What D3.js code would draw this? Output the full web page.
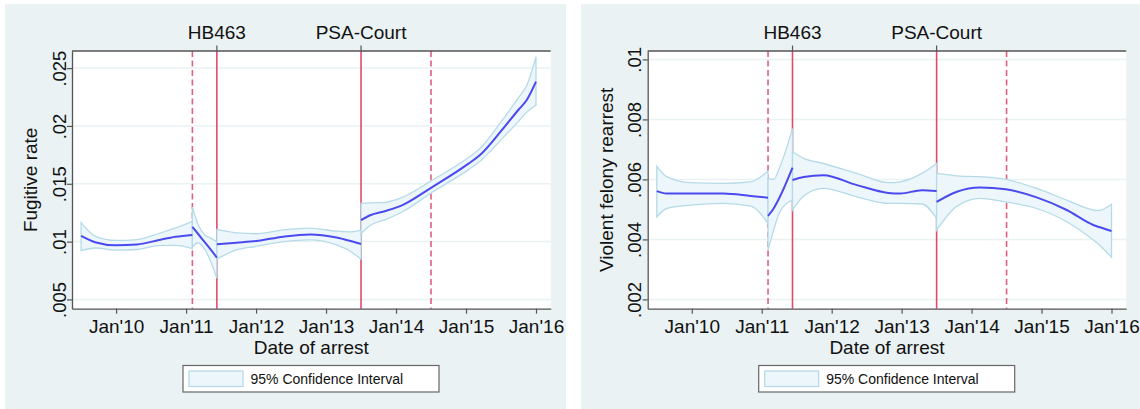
<!DOCTYPE html>
<html>
<head>
<meta charset="utf-8">
<script src="https://cdn.jsdelivr.net/npm/d3@7"></script>
<style>
  body { margin: 0; background: #fff; }
  svg { display: block; font-family: "Liberation Sans", Arial, Helvetica, sans-serif; }
</style>
</head>
<body>
<svg id="chart" width="1140" height="409"></svg>
<script>
// x values are decimal years, rows are [year, fit, lower 95%, upper 95%]
const yearTicks = [2010, 2011, 2012, 2013, 2014, 2015, 2016];
const dashedLines = [2011.09, 2014.5];
const solidLines = [2011.44, 2013.5];
const eventLabels = ['HB463', 'PSA-Court'];

const fugitiveTicks = [0.005, 0.01, 0.015, 0.02, 0.025];
const rearrestTicks = [0.002, 0.004, 0.006, 0.008, 0.01];

const fugitiveSeg1 = [
  [2009.50, 0.01049, 0.00922, 0.01164],
  [2009.70, 0.00995, 0.00945, 0.01048],
  [2010.00, 0.00968, 0.00926, 0.01010],
  [2010.30, 0.00975, 0.00932, 0.01018],
  [2010.60, 0.01012, 0.00966, 0.01068],
  [2010.85, 0.01042, 0.00968, 0.01118],
  [2011.09, 0.01058, 0.00940, 0.01176]
];
const fugitiveSeg2 = [
  [2011.09, 0.01128, 0.00955, 0.01300],
  [2011.17, 0.01068, 0.00990, 0.01150],
  [2011.26, 0.01000, 0.00940, 0.01062],
  [2011.35, 0.00932, 0.00830, 0.01030],
  [2011.44, 0.00862, 0.00684, 0.01000]
];
const fugitiveSeg3 = [
  [2011.44, 0.00978, 0.00850, 0.01105],
  [2011.72, 0.00991, 0.00928, 0.01075],
  [2012.00, 0.01005, 0.00958, 0.01068],
  [2012.39, 0.01043, 0.01000, 0.01101],
  [2012.77, 0.01062, 0.01015, 0.01116],
  [2013.15, 0.01035, 0.00971, 0.01090],
  [2013.35, 0.01005, 0.00915, 0.01085],
  [2013.50, 0.00980, 0.00848, 0.01100]
];
const fugitiveSeg4 = [
  [2013.50, 0.01185, 0.01070, 0.01330],
  [2013.63, 0.01228, 0.01140, 0.01335],
  [2013.85, 0.01265, 0.01190, 0.01340],
  [2014.10, 0.01318, 0.01260, 0.01385],
  [2014.50, 0.01465, 0.01420, 0.01525],
  [2015.03, 0.01672, 0.01620, 0.01725],
  [2015.20, 0.01749, 0.01695, 0.01805],
  [2015.50, 0.01955, 0.01880, 0.02035],
  [2015.75, 0.02140, 0.02040, 0.02245],
  [2015.87, 0.02226, 0.02120, 0.02354],
  [2016.00, 0.02383, 0.02181, 0.02599]
];

const rearrestSeg1 = [
  [2009.50, 0.00561, 0.00475, 0.00644],
  [2009.64, 0.00553, 0.00503, 0.00609],
  [2009.98, 0.00553, 0.00514, 0.00589],
  [2010.45, 0.00553, 0.00520, 0.00587],
  [2010.84, 0.00545, 0.00511, 0.00592],
  [2011.09, 0.00539, 0.00453, 0.00628]
];
const rearrestSeg2 = [
  [2011.09, 0.00478, 0.00364, 0.00603],
  [2011.17, 0.00503, 0.00431, 0.00600],
  [2011.26, 0.00542, 0.00492, 0.00642],
  [2011.44, 0.00639, 0.00531, 0.00770]
];
const rearrestSeg3 = [
  [2011.44, 0.00598, 0.00498, 0.00692],
  [2011.60, 0.00608, 0.00545, 0.00670],
  [2011.88, 0.00614, 0.00570, 0.00653],
  [2012.36, 0.00581, 0.00542, 0.00620],
  [2012.81, 0.00555, 0.00520, 0.00589],
  [2012.98, 0.00553, 0.00520, 0.00592],
  [2013.29, 0.00564, 0.00518, 0.00620],
  [2013.50, 0.00561, 0.00470, 0.00653]
];
const rearrestSeg4 = [
  [2013.50, 0.00525, 0.00431, 0.00620],
  [2013.79, 0.00559, 0.00511, 0.00612],
  [2014.12, 0.00573, 0.00537, 0.00609],
  [2014.49, 0.00567, 0.00525, 0.00600],
  [2014.93, 0.00540, 0.00503, 0.00570],
  [2015.36, 0.00498, 0.00459, 0.00531],
  [2015.74, 0.00448, 0.00398, 0.00498],
  [2015.81, 0.00442, 0.00385, 0.00496],
  [2016.00, 0.00428, 0.00340, 0.00517]
];

const svg = d3.select('#chart');

function drawPanel(cfg) {
  const top = 51;
  const bottom = 308.7;
  const g = svg.append('g');

  g.append('rect')
    .attr('x', cfg.bgLeft).attr('y', 4)
    .attr('width', cfg.bgRight - cfg.bgLeft).attr('height', 405)
    .attr('fill', '#eaf2f4');

  g.append('rect')
    .attr('x', cfg.left).attr('y', top)
    .attr('width', cfg.right - cfg.left).attr('height', bottom - top)
    .attr('fill', '#fff');

  const x = d3.scaleLinear().domain([2009.37, 2016.21]).range([cfg.left, cfg.right]);
  const y = d3.scaleLinear().domain(cfg.yDomain).range([bottom, top]);

  // grid
  g.append('g').selectAll('line')
    .data(cfg.yTicks)
    .join('line')
    .attr('x1', cfg.left).attr('x2', cfg.right)
    .attr('y1', (d) => y(d)).attr('y2', (d) => y(d))
    .attr('stroke', '#eaf2f4').attr('stroke-width', 1.5);

  // event lines, under the bands
  g.append('g').selectAll('line')
    .data(dashedLines)
    .join('line')
    .attr('x1', (d) => x(d)).attr('x2', (d) => x(d))
    .attr('y1', top).attr('y2', bottom)
    .attr('stroke', '#e0607e').attr('stroke-width', 1.6)
    .attr('stroke-dasharray', '6,3.5');

  g.append('g').selectAll('line')
    .data(solidLines)
    .join('line')
    .attr('x1', (d) => x(d)).attr('x2', (d) => x(d))
    .attr('y1', top).attr('y2', bottom)
    .attr('stroke', '#dc4c6c').attr('stroke-width', 1.6);

  const band = d3.area()
    .x((d) => x(d[0]))
    .y0((d) => y(d[2]))
    .y1((d) => y(d[3]))
    .curve(d3.curveMonotoneX);

  const fit = d3.line()
    .x((d) => x(d[0]))
    .y((d) => y(d[1]))
    .curve(d3.curveMonotoneX);

  g.append('g').selectAll('path')
    .data(cfg.segments)
    .join('path')
    .attr('d', band)
    .attr('fill', '#edf6fa')
    .attr('stroke', '#b5dbe8')
    .attr('stroke-width', 1.3);

  g.append('g').selectAll('path')
    .data(cfg.segments)
    .join('path')
    .attr('d', fit)
    .attr('fill', 'none')
    .attr('stroke', '#4a4af0')
    .attr('stroke-width', 2);

  // axes
  const xAxis = g.append('g')
    .attr('transform', `translate(0,${bottom})`)
    .call(d3.axisBottom(x).tickValues(yearTicks).tickSize(5).tickSizeOuter(0)
      .tickFormat((d) => `Jan'${String(d).slice(2)}`));
  xAxis.select('.domain').attr('stroke', '#555').attr('stroke-width', 1.3);
  xAxis.selectAll('.tick line').attr('stroke', '#555').attr('stroke-width', 1.2);
  xAxis.selectAll('.tick text')
    .attr('y', 24).attr('dy', 0)
    .attr('font-size', 19).attr('fill', '#111')
    .attr('font-family', '"Liberation Sans", Arial, sans-serif');

  const yAxis = g.append('g')
    .attr('transform', `translate(${cfg.left},0)`)
    .call(d3.axisLeft(y).tickValues(cfg.yTicks).tickSize(5).tickSizeOuter(0)
      .tickFormat((d) => String(d).replace(/^0/, '')));
  yAxis.select('.domain').attr('stroke', '#555').attr('stroke-width', 1.3);
  yAxis.selectAll('.tick line').attr('stroke', '#555').attr('stroke-width', 1.2);
  yAxis.selectAll('.tick text')
    .attr('x', null).attr('dy', null)
    .attr('transform', 'translate(-6.5,0) rotate(-90)')
    .attr('text-anchor', 'middle')
    .attr('font-size', 18.5).attr('fill', '#111')
    .attr('font-family', '"Liberation Sans", Arial, sans-serif');

  // top border and event ticks/labels
  g.append('line')
    .attr('x1', cfg.left).attr('x2', cfg.right)
    .attr('y1', top).attr('y2', top)
    .attr('stroke', '#555').attr('stroke-width', 1.3);

  g.append('g').selectAll('line')
    .data(solidLines)
    .join('line')
    .attr('x1', (d) => x(d)).attr('x2', (d) => x(d))
    .attr('y1', top - 5.5).attr('y2', top)
    .attr('stroke', '#555').attr('stroke-width', 1.2);

  g.append('g').selectAll('text')
    .data(solidLines)
    .join('text')
    .attr('x', (d) => x(d)).attr('y', 39)
    .attr('text-anchor', 'middle')
    .attr('font-size', 19).attr('fill', '#111')
    .text((d, i) => eventLabels[i]);

  g.append('text')
    .attr('x', (cfg.left + cfg.right) / 2).attr('y', 354)
    .attr('text-anchor', 'middle')
    .attr('font-size', 19).attr('fill', '#111')
    .text('Date of arrest');

  g.append('text')
    .attr('transform', `translate(${cfg.left - 34.7},${(top + bottom) / 2}) rotate(-90)`)
    .attr('text-anchor', 'middle')
    .attr('font-size', 19).attr('fill', '#111')
    .text(cfg.yTitle);

  // legend
  const lx = cfg.left + 111;
  g.append('rect')
    .attr('x', lx).attr('y', 365.5).attr('width', 256).attr('height', 26.5)
    .attr('fill', '#fff').attr('stroke', '#666').attr('stroke-width', 1.2);
  g.append('rect')
    .attr('x', lx + 6).attr('y', 371).attr('width', 54).attr('height', 15.5)
    .attr('fill', '#edf6fa').attr('stroke', '#b5dbe8').attr('stroke-width', 1.3);
  g.append('text')
    .attr('x', lx + 67.5).attr('y', 384)
    .attr('font-size', 14).attr('fill', '#111')
    .text('95% Confidence Interval');
}

drawPanel({
  bgLeft: 5, bgRight: 566, left: 72, right: 550.7,
  yDomain: [0.0042, 0.02648], yTicks: fugitiveTicks,
  yTitle: 'Fugitive rate',
  segments: [fugitiveSeg1, fugitiveSeg2, fugitiveSeg3, fugitiveSeg4]
});

drawPanel({
  bgLeft: 581, bgRight: 1140, left: 647.7, right: 1126.2,
  yDomain: [0.00169, 0.01028], yTicks: rearrestTicks,
  yTitle: 'Violent felony rearrest',
  segments: [rearrestSeg1, rearrestSeg2, rearrestSeg3, rearrestSeg4]
});
</script>
</body>
</html>
